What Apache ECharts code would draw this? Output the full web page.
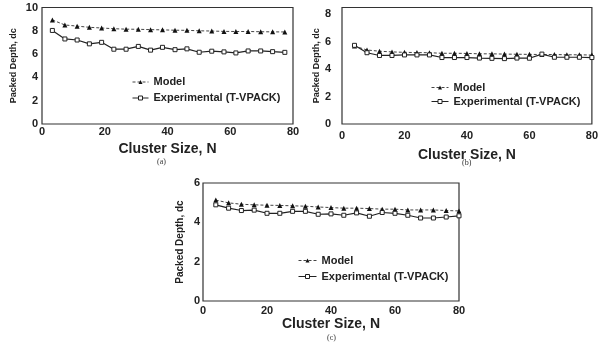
<!DOCTYPE html>
<html>
<head>
<meta charset="utf-8">
<script src="https://cdn.jsdelivr.net/npm/echarts@6/dist/echarts.min.js"></script>
<style>html,body{margin:0;padding:0;background:#fff}#c{width:601px;height:343px}</style>
</head>
<body>
<div id="c"></div>
<script>
// ---- data ----
const seriesNames = ['Model', 'Experimental (T-VPACK)'];
const xTicksA = [0, 20, 40, 60, 80];
const yTicksA = [0, 2, 4, 6, 8, 10];
const yTicksB = [0, 2, 4, 6, 8];
const yTicksC = [0, 2, 4, 6];

const xA = [3.3, 7.3, 11.2, 15.1, 19.0, 22.9, 26.8, 30.7, 34.6, 38.4, 42.4, 46.2, 50.1, 54.1, 58.0, 61.8, 65.7, 69.7, 73.5, 77.4];
const modelA = [8.93, 8.5, 8.4, 8.3, 8.24, 8.18, 8.14, 8.13, 8.1, 8.08, 8.05, 8.04, 8.0, 7.98, 7.95, 7.94, 7.94, 7.92, 7.91, 7.9];
const expA = [8.03, 7.3, 7.21, 6.88, 7.01, 6.42, 6.42, 6.66, 6.34, 6.58, 6.38, 6.45, 6.16, 6.25, 6.19, 6.1, 6.27, 6.27, 6.21, 6.15];

const xB = [4, 8, 12, 16, 20, 24, 28, 32, 36, 40, 44, 48, 52, 56, 60, 64, 68, 72, 76, 80];
const modelB = [5.69, 5.40, 5.31, 5.26, 5.23, 5.21, 5.2, 5.16, 5.16, 5.15, 5.12, 5.12, 5.1, 5.09, 5.08, 5.07, 5.07, 5.05, 5.05, 5.03];
const expB = [5.74, 5.2, 5.0, 5.0, 5.04, 5.04, 5.04, 4.85, 4.85, 4.85, 4.81, 4.79, 4.77, 4.81, 4.8, 5.1, 4.87, 4.87, 4.87, 4.85];

const xC = [4, 8, 12, 16, 20, 24, 28, 32, 36, 40, 44, 48, 52, 56, 60, 64, 68, 72, 76, 80];
const modelC = [5.13, 4.99, 4.92, 4.89, 4.87, 4.86, 4.84, 4.82, 4.78, 4.75, 4.72, 4.72, 4.70, 4.67, 4.67, 4.63, 4.63, 4.63, 4.6, 4.58];
const expC = [4.89, 4.72, 4.6, 4.62, 4.46, 4.46, 4.56, 4.56, 4.41, 4.43, 4.36, 4.48, 4.31, 4.50, 4.46, 4.36, 4.22, 4.22, 4.27, 4.33];

const xName = 'Cluster Size, N';
const yName = 'Packed Depth, dc';
const captions = ['(a)', '(b)', '(c)'];

// ---- chart ----
const font = 'Liberation Sans, Arial, sans-serif';
const ink = '#222';
const zip = (xs, ys) => xs.map((x, i) => [x, ys[i]]);

function xAxis(gi, labelMargin, nameGap) {
  return {
    type: 'value', gridIndex: gi, min: 0, max: 80, interval: 20,
    name: xName, nameLocation: 'middle', nameGap: nameGap,
    nameTextStyle: { fontFamily: font, fontWeight: 'bold', fontSize: 14, color: ink },
    axisLine: { show: false }, axisTick: { show: false }, splitLine: { show: false },
    axisLabel: { margin: labelMargin, fontFamily: font, fontWeight: 'bold', fontSize: 11, color: ink }
  };
}
function yAxis(gi, max, labelMargin, nameGap, nameSize, showMax) {
  return {
    type: 'value', gridIndex: gi, min: 0, max: max, interval: 2,
    name: yName, nameLocation: 'middle', nameGap: nameGap,
    nameTextStyle: { fontFamily: font, fontWeight: 'bold', fontSize: nameSize, color: ink },
    axisLine: { show: false }, axisTick: { show: false }, splitLine: { show: false },
    axisLabel: { margin: labelMargin, fontFamily: font, fontWeight: 'bold', fontSize: 11, color: ink, showMaxLabel: showMax }
  };
}
function modelSeries(gi, data) {
  return {
    name: seriesNames[0], type: 'line', xAxisIndex: gi, yAxisIndex: gi, data: data,
    symbol: 'triangle', symbolSize: 5, showAllSymbol: true,
    itemStyle: { color: '#111' },
    lineStyle: { color: '#444', width: 1, type: [3, 2] },
    animation: false
  };
}
function expSeries(gi, data) {
  return {
    name: seriesNames[1], type: 'line', xAxisIndex: gi, yAxisIndex: gi, data: data,
    symbol: 'rect', symbolSize: 4, showAllSymbol: true,
    itemStyle: { color: '#fff', borderColor: '#222', borderWidth: 1 },
    lineStyle: { color: '#222', width: 1.2 },
    animation: false
  };
}
function legend(left, top, w, gap) {
  return {
    orient: 'vertical', left: left, top: top, itemWidth: w, itemHeight: 5, itemGap: gap,
    padding: 0, data: seriesNames, selectedMode: false,
    lineStyle: { width: 1 },
    itemStyle: { borderWidth: 1 },
    textStyle: { fontFamily: font, fontWeight: 'bold', fontSize: 11, color: ink, lineHeight: 13 }
  };
}
const gridBase = { show: true, borderColor: '#333', borderWidth: 1.2, backgroundColor: 'transparent' };

const chart = echarts.init(document.getElementById('c'), null, { renderer: 'canvas' });
chart.setOption({
  backgroundColor: '#fff',
  animation: false,
  grid: [
    Object.assign({ left: 42, top: 7.5, width: 251, height: 116.5 }, gridBase),
    Object.assign({ left: 342, top: 7.5, width: 256, height: 116.5 }, gridBase),
    Object.assign({ left: 203, top: 183, width: 256, height: 118 }, gridBase)
  ],
  xAxis: [xAxis(0, 2, 18), xAxis(1, 6, 24), xAxis(2, 4, 15)],
  yAxis: [yAxis(0, 10, 4, 24, 9, true), yAxis(1, 8.5, 11, 19, 9, false), yAxis(2, 6, 3, 18, 10, true)],
  legend: [legend(132, 75.5, 16, 3), legend(431, 81, 17, 1), legend(298, 254, 18, 3)],
  series: [
    modelSeries(0, zip(xA, modelA)), expSeries(0, zip(xA, expA)),
    modelSeries(1, zip(xB, modelB)), expSeries(1, zip(xB, expB)),
    modelSeries(2, zip(xC, modelC)), expSeries(2, zip(xC, expC))
  ],
  graphic: [
    { type: 'text', left: 157, top: 158, style: { text: captions[0], font: '8px "Liberation Serif", serif', fill: '#333' } },
    { type: 'text', left: 462, top: 159, style: { text: captions[1], font: '8px "Liberation Serif", serif', fill: '#333' } },
    { type: 'text', left: 327, top: 334, style: { text: captions[2], font: '8px "Liberation Serif", serif', fill: '#333' } }
  ]
});
</script>
</body>
</html>
